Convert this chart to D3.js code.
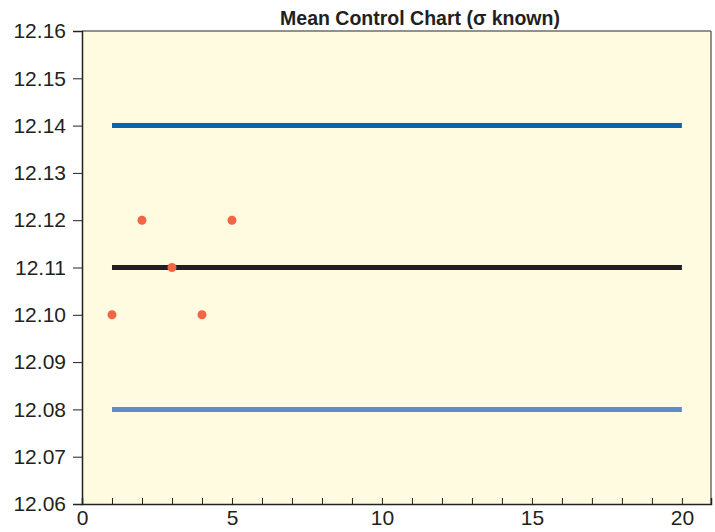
<!DOCTYPE html>
<html><head><meta charset="utf-8">
<script src="https://cdn.jsdelivr.net/npm/d3@7"></script>
<style>body{margin:0;background:#fff;}svg{display:block;font-family:"Liberation Sans",Arial,sans-serif;}</style>
</head><body>
<svg id="c" width="715" height="532"></svg>
<script>
const title = "Mean Control Chart (σ known)";
const sampleNo = [1, 2, 3, 4, 5];
const sampleMean = [12.10, 12.12, 12.11, 12.10, 12.12];
const limitNames = ["UCL", "Center", "LCL"];
const limitValues = [12.14, 12.11, 12.08];
const limitColors = ["#0d64a8", "#231f20", "#5b8dcc"];
const limitStart = 1, limitEnd = 20;
const yTicks = [12.06, 12.07, 12.08, 12.09, 12.10, 12.11, 12.12, 12.13, 12.14, 12.15, 12.16];
const xTickLabels = [0, 5, 10, 15, 20];
const xMinorTicks = d3.range(1, 21);

const svg = d3.select("#c");
const L = 82, R = 711, T = 31, B = 504;
const x = d3.scaleLinear().domain([0, 20.97]).range([L, R]);
const y = d3.scaleLinear().domain([12.06, 12.16]).range([B, T]);

svg.append("rect").attr("x", L).attr("y", T).attr("width", R - L).attr("height", B - T).attr("fill", "#fffbe1");
svg.append("line").attr("x1", L).attr("x2", R).attr("y1", T).attr("y2", T).attr("stroke", "#6d6d6d").attr("stroke-width", 1.5);
svg.append("line").attr("x1", R).attr("x2", R).attr("y1", T).attr("y2", B).attr("stroke", "#6d6d6d").attr("stroke-width", 1.5);

svg.selectAll(".lim").data(limitValues).enter().append("line")
  .attr("x1", x(limitStart)).attr("x2", x(limitEnd))
  .attr("y1", d => y(d)).attr("y2", d => y(d))
  .attr("stroke", (d, i) => limitColors[i]).attr("stroke-width", 5);

svg.selectAll(".pt").data(sampleNo).enter().append("circle")
  .attr("cx", d => x(d)).attr("cy", (d, i) => y(sampleMean[i])).attr("r", 4.5)
  .attr("fill", "#f26645");

const ya = svg.append("g").attr("transform", `translate(${L},0)`)
  .call(d3.axisLeft(y).tickValues(yTicks).tickFormat(d3.format(".2f")).tickSize(9).tickPadding(7));
ya.select(".domain").attr("stroke", "#222").attr("stroke-width", 1.5);
ya.selectAll(".tick line").attr("stroke", "#222");
ya.selectAll("text").attr("font-size", 21).attr("fill", "#231f20").attr("font-family", "Liberation Sans, Arial, sans-serif");

const xa = svg.append("g").attr("transform", `translate(0,${B})`)
  .call(d3.axisBottom(x).tickValues(xMinorTicks).tickSize(-6).tickFormat(""));
xa.select(".domain").attr("stroke", "#222").attr("stroke-width", 1.5);
xa.selectAll(".tick line").attr("stroke", "#222");
const xl = svg.append("g").attr("transform", `translate(0,${B})`)
  .call(d3.axisBottom(x).tickValues(xTickLabels).tickSize(0).tickPadding(6));
xl.select(".domain").remove();
xl.selectAll("text").attr("font-size", 21).attr("fill", "#231f20").attr("font-family", "Liberation Sans, Arial, sans-serif");

svg.append("text").attr("x", 420).attr("y", 25).attr("text-anchor", "middle")
  .attr("font-size", 19.5).attr("font-weight", "bold").attr("fill", "#231f20").text(title);
</script>
</body></html>
